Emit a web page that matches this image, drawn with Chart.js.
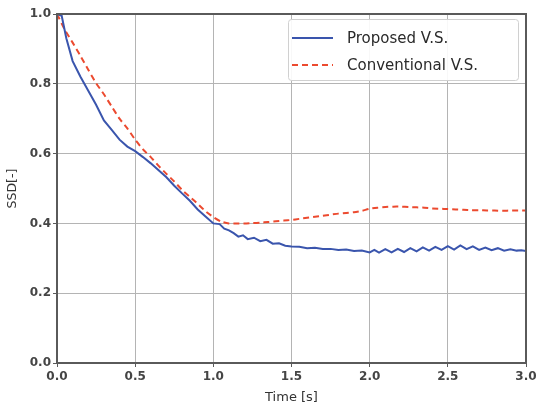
<!DOCTYPE html>
<html>
<head>
<meta charset="utf-8">
<script src="https://cdn.jsdelivr.net/npm/chart.js@4.4.1/dist/chart.umd.min.js"></script>
<style>
  html, body { margin: 0; padding: 0; background: #ffffff; }
  #wrap { width: 536px; height: 407px; }
</style>
</head>
<body>
<div id="wrap"><canvas id="c" width="536" height="407"></canvas></div>
<script>
// ---- Data ----
const seriesLabels = ["Proposed V.S.", "Conventional V.S."];

const proposedTime = [0.00, 0.03, 0.06, 0.10, 0.15, 0.20, 0.25, 0.30, 0.35, 0.40, 0.45, 0.50, 0.55, 0.60, 0.65, 0.70, 0.75, 0.80, 0.85, 0.90, 0.95,
  1.00, 1.04, 1.07, 1.10, 1.13, 1.16, 1.19, 1.22, 1.26, 1.30, 1.34, 1.38, 1.42, 1.46, 1.50, 1.55, 1.60, 1.65, 1.70, 1.75, 1.80, 1.85, 1.90, 1.95,
  2.00, 2.03, 2.06, 2.10, 2.14, 2.18, 2.22, 2.26, 2.30, 2.34, 2.38, 2.42, 2.46, 2.50, 2.54, 2.58, 2.62, 2.66, 2.70, 2.74, 2.78, 2.82, 2.86, 2.90, 2.94, 2.97, 3.00];
const proposedSSD = [1.000, 0.995, 0.930, 0.865, 0.820, 0.780, 0.740, 0.695, 0.668, 0.640, 0.620, 0.607, 0.590, 0.572, 0.552, 0.532, 0.508, 0.486, 0.465, 0.440, 0.420,
  0.400, 0.398, 0.385, 0.380, 0.372, 0.362, 0.366, 0.355, 0.359, 0.349, 0.353, 0.342, 0.343, 0.336, 0.334, 0.333, 0.329, 0.330, 0.327, 0.327, 0.324, 0.325, 0.321, 0.322,
  0.317, 0.324, 0.316, 0.326, 0.317, 0.327, 0.318, 0.329, 0.320, 0.331, 0.322, 0.333, 0.324, 0.335, 0.325, 0.337, 0.326, 0.334, 0.324, 0.331, 0.323, 0.329, 0.322, 0.326, 0.322, 0.323, 0.321];

const conventionalTime = [0.00, 0.05, 0.10, 0.15, 0.20, 0.25, 0.30, 0.35, 0.40, 0.45, 0.50, 0.55, 0.60, 0.65, 0.70, 0.75, 0.80, 0.85, 0.90, 0.95,
  1.00, 1.05, 1.10, 1.15, 1.20, 1.25, 1.30, 1.35, 1.40, 1.45, 1.50, 1.55, 1.60, 1.65, 1.70, 1.75, 1.80, 1.85, 1.90, 1.95,
  2.00, 2.05, 2.10, 2.15, 2.20, 2.25, 2.30, 2.35, 2.40, 2.45, 2.50, 2.55, 2.60, 2.65, 2.70, 2.75, 2.80, 2.85, 2.90, 2.95, 3.00];
const conventionalSSD = [1.000, 0.955, 0.918, 0.880, 0.840, 0.802, 0.770, 0.735, 0.700, 0.672, 0.640, 0.612, 0.590, 0.565, 0.542, 0.520, 0.496, 0.476, 0.456, 0.435,
  0.418, 0.405, 0.400, 0.400, 0.400, 0.401, 0.402, 0.404, 0.406, 0.408, 0.410, 0.413, 0.416, 0.419, 0.422, 0.425, 0.428, 0.430, 0.432, 0.436,
  0.442, 0.445, 0.447, 0.448, 0.448, 0.447, 0.446, 0.445, 0.443, 0.442, 0.441, 0.440, 0.439, 0.438, 0.438, 0.437, 0.437, 0.436, 0.437, 0.437, 0.437];

const xTicks = [0.0, 0.5, 1.0, 1.5, 2.0, 2.5, 3.0];
const yTicks = [0.0, 0.2, 0.4, 0.6, 0.8, 1.0];
const xTitle = "Time [s]";
const yTitle = "SSD[-]";

// ---- Styles ----
const BLUE = "#3a55ad";
const RED = "#ec4a2f";
const FRAME = "#5a5a5a";
const GRID = "#b4b4b4";
const TICKTXT = "#454545";

const toPoints = (xs, ys) => xs.map((x, i) => ({ x: x, y: ys[i] }));

const framePlugin = {
  id: "frame",
  afterDatasetsDraw(chart) {
    const a = chart.chartArea, ctx = chart.ctx;
    ctx.save();
    ctx.strokeStyle = FRAME;
    ctx.lineWidth = 2;
    ctx.strokeRect(a.left, a.top, a.right - a.left, a.bottom - a.top);
    ctx.restore();
  }
};

const legendPlugin = {
  id: "boxLegend",
  afterDraw(chart) {
    const ctx = chart.ctx;
    const bx = 288, by = 19, bw = 230, bh = 61;
    ctx.save();
    ctx.fillStyle = "rgba(255,255,255,0.9)";
    ctx.strokeStyle = "#d0d0d0";
    ctx.lineWidth = 1;
    ctx.beginPath();
    ctx.roundRect(bx + 0.5, by + 0.5, bw, bh, 3);
    ctx.fill();
    ctx.stroke();
    const rows = [38, 65];
    chart.data.datasets.forEach((ds, i) => {
      const y = rows[i];
      ctx.strokeStyle = ds.borderColor;
      ctx.lineWidth = 2;
      ctx.setLineDash(ds.borderDash || []);
      ctx.beginPath();
      ctx.moveTo(292, y);
      ctx.lineTo(333, y);
      ctx.stroke();
      ctx.setLineDash([]);
      ctx.fillStyle = "#2a2a2a";
      ctx.font = "15px 'DejaVu Sans'";
      ctx.textBaseline = "middle";
      ctx.textAlign = "left";
      ctx.fillText(ds.label, 347, y + 1);
    });
    ctx.restore();
  }
};

new Chart(document.getElementById("c"), {
  type: "line",
  data: {
    datasets: [
      {
        label: seriesLabels[0],
        data: toPoints(proposedTime, proposedSSD),
        borderColor: BLUE,
        borderWidth: 2,
        pointRadius: 0,
        tension: 0,
        fill: false
      },
      {
        label: seriesLabels[1],
        data: toPoints(conventionalTime, conventionalSSD),
        borderColor: RED,
        borderWidth: 2,
        borderDash: [6, 4],
        pointRadius: 0,
        tension: 0.2,
        fill: false
      }
    ]
  },
  options: {
    responsive: false,
    animation: false,
    devicePixelRatio: 1,
    layout: { padding: { top: 14, right: 10, left: 0, bottom: 0 } },
    plugins: {
      legend: { display: false },
      tooltip: { enabled: false }
    },
    scales: {
      x: {
        type: "linear",
        min: 0,
        max: 3,
        afterFit(s) { s.height = 44; s.paddingLeft = 0; s.paddingRight = 0; },
        afterBuildTicks(s) { s.ticks = xTicks.map(v => ({ value: v })); },
        ticks: {
          color: TICKTXT,
          font: { family: "DejaVu Sans", size: 12, weight: "bold" },
          padding: 3,
          maxRotation: 0,
          callback: v => Number(v).toFixed(1)
        },
        grid: { color: GRID, lineWidth: 1, tickLength: 4, tickColor: FRAME, drawTicks: true },
        border: { display: false },
        title: {
          display: true,
          text: xTitle,
          color: "#333333",
          font: { family: "DejaVu Sans", size: 13 },
          padding: { top: 0, bottom: 2 }
        }
      },
      y: {
        type: "linear",
        min: 0,
        max: 1,
        afterFit(s) { s.width = 57; s.paddingTop = 0; s.paddingBottom = 0; },
        afterBuildTicks(s) { s.ticks = yTicks.map(v => ({ value: v })); },
        ticks: {
          color: TICKTXT,
          font: { family: "DejaVu Sans", size: 12, weight: "bold" },
          padding: 2,
          callback: v => Number(v).toFixed(1)
        },
        grid: { color: GRID, lineWidth: 1, tickLength: 4, tickColor: FRAME, drawTicks: true },
        border: { display: false },
        title: {
          display: true,
          text: yTitle,
          color: "#333333",
          font: { family: "DejaVu Sans", size: 12.5 },
          padding: { top: 5, bottom: 0 }
        }
      }
    }
  },
  plugins: [framePlugin, legendPlugin]
});
</script>
</body>
</html>
